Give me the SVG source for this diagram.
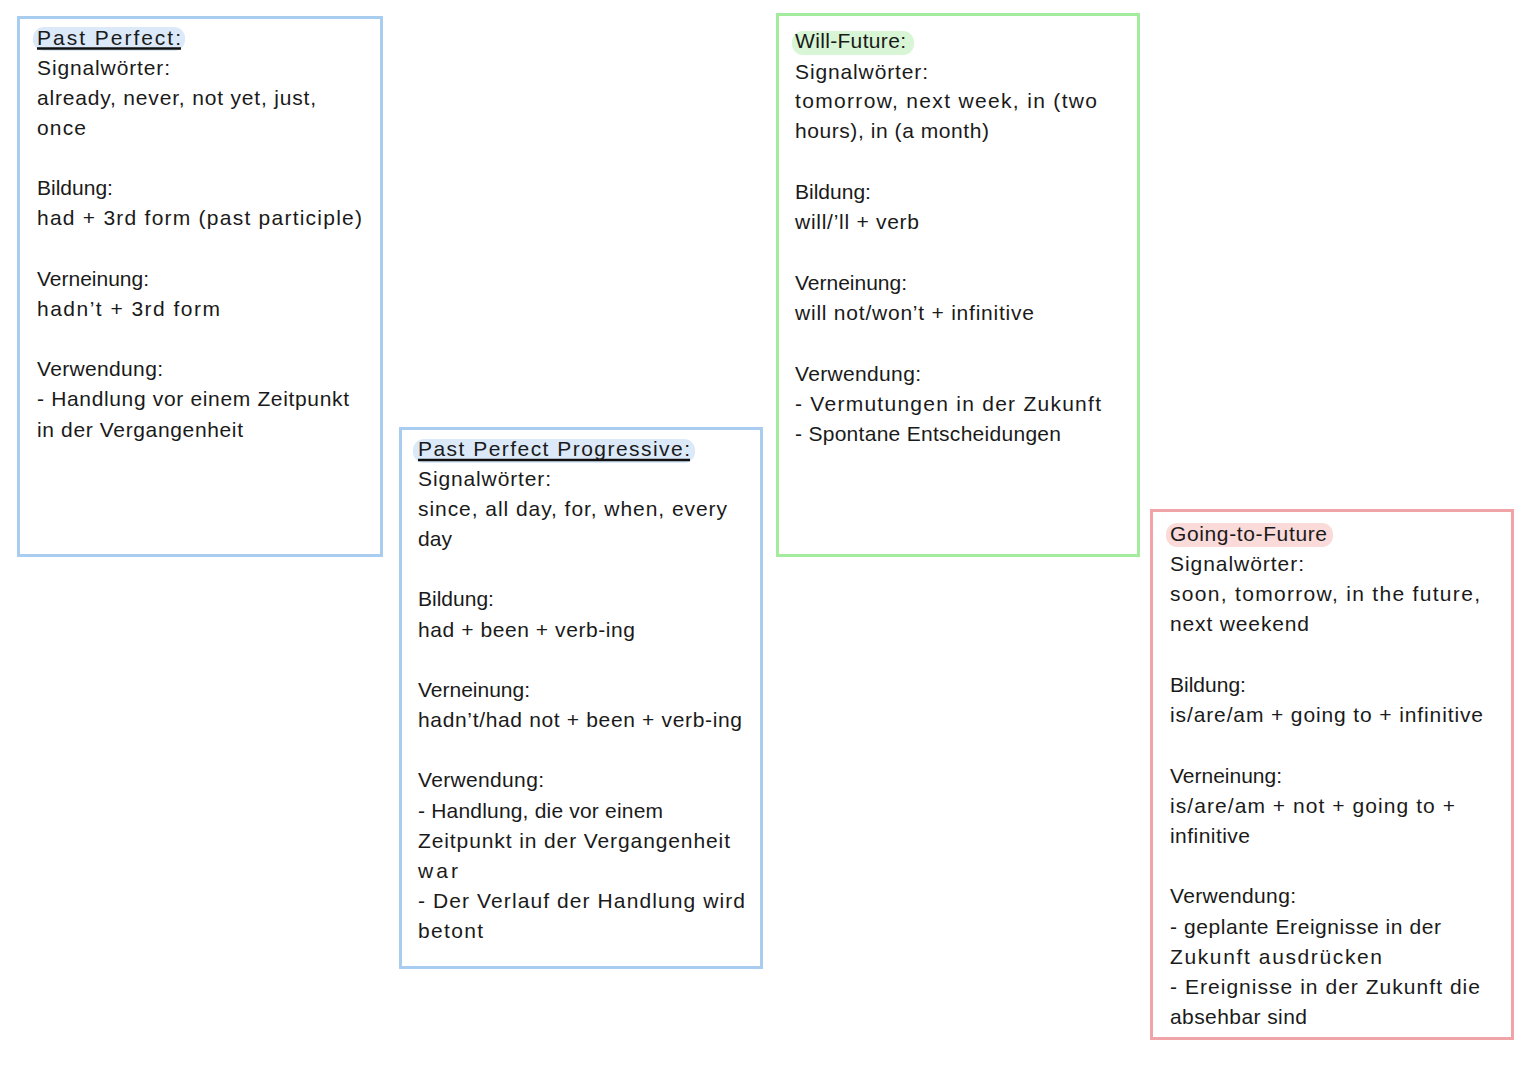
<svg xmlns="http://www.w3.org/2000/svg" width="1527" height="1080" viewBox="0 0 1527 1080">
<style>
.card{fill:#ffffff;stroke-width:3}
.blue{stroke:#a9cdf1}
.green{stroke:#a3eb9d}
.red{stroke:#f1a4a7}
text{font-family:"Liberation Sans",Arial,sans-serif;font-size:21px;fill:#1a1a1a}
.ul{stroke:#111;stroke-width:2.5;fill:none}
</style>
<rect width="1527" height="1080" fill="#ffffff"/>
<g id="past-perfect">
<rect class="card blue" x="18.5" y="17.5" width="363" height="538"/>
<rect x="33" y="27" width="152" height="24" rx="11" fill="#dbe9f8"/>
<line class="ul" x1="37" y1="48.5" x2="181" y2="48.5"/>
<text x="37" y="45" textLength="144" lengthAdjust="spacing">Past Perfect:</text>
<text x="37" y="75" textLength="133" lengthAdjust="spacing">Signalwörter:</text>
<text x="37" y="105" textLength="279" lengthAdjust="spacing">already, never, not yet, just,</text>
<text x="37" y="135" textLength="49" lengthAdjust="spacing">once</text>
<text x="37" y="195">Bildung:</text>
<text x="37" y="225" textLength="325" lengthAdjust="spacing">had + 3rd form (past participle)</text>
<text x="37" y="286" textLength="112" lengthAdjust="spacing">Verneinung:</text>
<text x="37" y="316" textLength="183" lengthAdjust="spacing">hadn’t + 3rd form</text>
<text x="37" y="376" textLength="126" lengthAdjust="spacing">Verwendung:</text>
<text x="37" y="406" textLength="312" lengthAdjust="spacing">- Handlung vor einem Zeitpunkt</text>
<text x="37" y="437" textLength="206" lengthAdjust="spacing">in der Vergangenheit</text>
</g>
<g id="past-perfect-progressive">
<rect class="card blue" x="400.5" y="428.5" width="361" height="539"/>
<rect x="413" y="439" width="282" height="24" rx="11" fill="#dbe9f8"/>
<line class="ul" x1="418" y1="460" x2="690" y2="460"/>
<text x="418" y="456" textLength="272" lengthAdjust="spacing">Past Perfect Progressive:</text>
<text x="418" y="486" textLength="133" lengthAdjust="spacing">Signalwörter:</text>
<text x="418" y="516" textLength="309" lengthAdjust="spacing">since, all day, for, when, every</text>
<text x="418" y="546" textLength="34" lengthAdjust="spacing">day</text>
<text x="418" y="606">Bildung:</text>
<text x="418" y="637" textLength="217" lengthAdjust="spacing">had + been + verb-ing</text>
<text x="418" y="697" textLength="112" lengthAdjust="spacing">Verneinung:</text>
<text x="418" y="727" textLength="324" lengthAdjust="spacing">hadn’t/had not + been + verb-ing</text>
<text x="418" y="787" textLength="126" lengthAdjust="spacing">Verwendung:</text>
<text x="418" y="818" textLength="245" lengthAdjust="spacing">- Handlung, die vor einem</text>
<text x="418" y="848" textLength="312" lengthAdjust="spacing">Zeitpunkt in der Vergangenheit</text>
<text x="418" y="878" textLength="40" lengthAdjust="spacing">war</text>
<text x="418" y="908" textLength="327" lengthAdjust="spacing">- Der Verlauf der Handlung wird</text>
<text x="418" y="938" textLength="65" lengthAdjust="spacing">betont</text>
</g>
<g id="will-future">
<rect class="card green" x="777.5" y="14.5" width="361" height="541" stroke-width="3.5"/>
<rect x="792" y="31" width="122" height="24" rx="11" fill="#d8f6d5"/>
<text x="795" y="48" textLength="111" lengthAdjust="spacing">Will-Future:</text>
<text x="795" y="79" textLength="133" lengthAdjust="spacing">Signalwörter:</text>
<text x="795" y="108" textLength="302" lengthAdjust="spacing">tomorrow, next week, in (two</text>
<text x="795" y="138" textLength="194" lengthAdjust="spacing">hours), in (a month)</text>
<text x="795" y="199">Bildung:</text>
<text x="795" y="229" textLength="124" lengthAdjust="spacing">will/’ll + verb</text>
<text x="795" y="290" textLength="112" lengthAdjust="spacing">Verneinung:</text>
<text x="795" y="320" textLength="239" lengthAdjust="spacing">will not/won’t + infinitive</text>
<text x="795" y="381" textLength="126" lengthAdjust="spacing">Verwendung:</text>
<text x="795" y="411" textLength="306" lengthAdjust="spacing">- Vermutungen in der Zukunft</text>
<text x="795" y="441" textLength="266" lengthAdjust="spacing">- Spontane Entscheidungen</text>
</g>
<g id="going-to-future">
<rect class="card red" x="1151.5" y="510.5" width="361" height="528"/>
<rect x="1166" y="523" width="167" height="24" rx="11" fill="#fbdada"/>
<text x="1170" y="541" textLength="157" lengthAdjust="spacing">Going-to-Future</text>
<text x="1170" y="571" textLength="134" lengthAdjust="spacing">Signalwörter:</text>
<text x="1170" y="601" textLength="310" lengthAdjust="spacing">soon, tomorrow, in the future,</text>
<text x="1170" y="631" textLength="139" lengthAdjust="spacing">next weekend</text>
<text x="1170" y="692">Bildung:</text>
<text x="1170" y="722" textLength="313" lengthAdjust="spacing">is/are/am + going to + infinitive</text>
<text x="1170" y="783" textLength="112" lengthAdjust="spacing">Verneinung:</text>
<text x="1170" y="813" textLength="285" lengthAdjust="spacing">is/are/am + not + going to +</text>
<text x="1170" y="843" textLength="80" lengthAdjust="spacing">infinitive</text>
<text x="1170" y="903" textLength="126" lengthAdjust="spacing">Verwendung:</text>
<text x="1170" y="934" textLength="271" lengthAdjust="spacing">- geplante Ereignisse in der</text>
<text x="1170" y="964" textLength="212" lengthAdjust="spacing">Zukunft ausdrücken</text>
<text x="1170" y="994" textLength="310" lengthAdjust="spacing">- Ereignisse in der Zukunft die</text>
<text x="1170" y="1024" textLength="137" lengthAdjust="spacing">absehbar sind</text>
</g>
<g id="connectors"></g>
</svg>
